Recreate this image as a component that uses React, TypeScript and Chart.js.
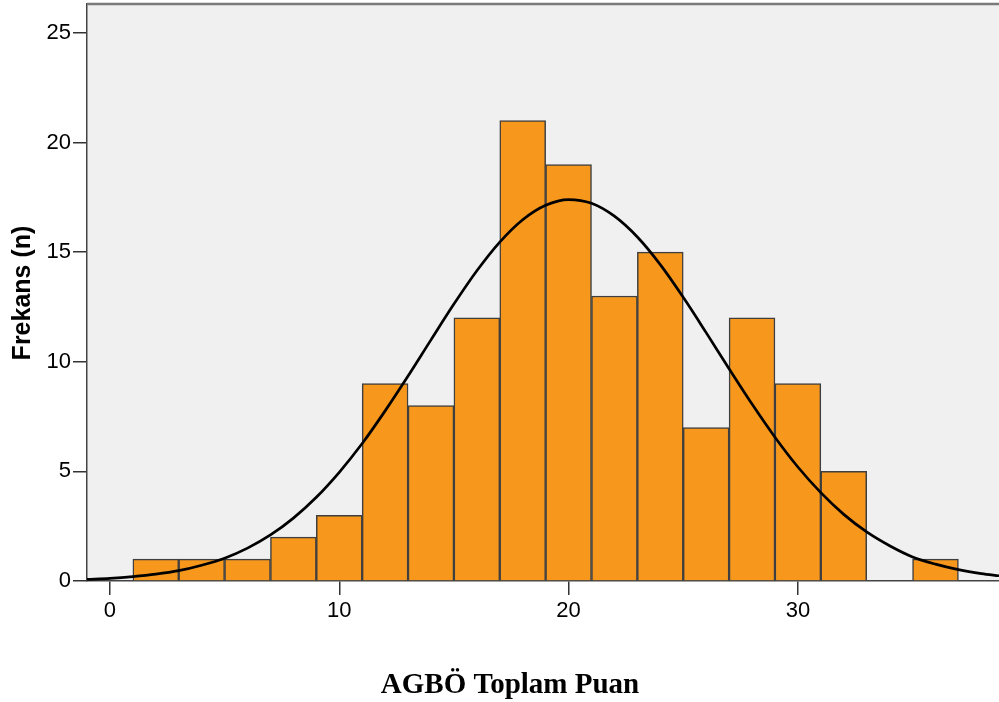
import React, { useEffect, useRef } from "react";
import { Chart, registerables } from "chart.js";

Chart.register(...registerables);

// Histogram bins (centres) and frequencies
const BIN_CENTERS = [2, 4, 6, 8, 10, 12, 14, 16, 18, 20, 22, 24, 26, 28, 30, 32, 34, 36];
const BIN_COUNTS = [1, 1, 1, 2, 3, 9, 8, 12, 21, 19, 13, 15, 7, 12, 9, 5, 0, 1];

// Fitted normal curve
const CURVE_X = [-1, 0, 1, 2, 3, 4, 5, 6, 7, 8, 9, 10, 11, 12, 13, 14, 15, 16, 17, 18, 19, 20, 21, 22, 23, 24, 25, 26, 27, 28, 29, 30, 31, 32, 33, 34, 35, 36, 37, 38, 38.77];
const CURVE_Y = [0.07, 0.12, 0.2, 0.31, 0.47, 0.72, 1.04, 1.5, 2.1, 2.87, 3.82, 4.96, 6.27, 7.76, 9.35, 11.0, 12.63, 14.15, 15.46, 16.48, 17.14, 17.4, 17.23, 16.64, 15.69, 14.43, 12.94, 11.33, 9.68, 8.07, 6.56, 5.2, 4.03, 3.04, 2.24, 1.61, 1.1, 0.77, 0.52, 0.34, 0.24];

const X_TICKS = [0, 10, 20, 30];
const Y_TICKS = [0, 5, 10, 15, 20, 25];

const X_TITLE = "AGBÖ Toplam Puan";
const Y_TITLE = "Frekans (n)";

export default function App() {
  const ref = useRef<HTMLCanvasElement>(null);

  useEffect(() => {
    if (!ref.current) return;

    const bgPlugin = {
      id: "bgPlugin",
      beforeDraw(chart: any) {
        const { ctx, chartArea } = chart;
        ctx.save();
        ctx.fillStyle = "#f0f0f0";
        ctx.fillRect(chartArea.left, chartArea.top, chartArea.right - chartArea.left, chartArea.bottom - chartArea.top);
        ctx.restore();
      },
      afterDraw(chart: any) {
        const { ctx, chartArea } = chart;
        ctx.save();
        // top border
        ctx.strokeStyle = "#7a7a7a";
        ctx.lineWidth = 2.5;
        ctx.beginPath();
        ctx.moveTo(chartArea.left, chartArea.top);
        ctx.lineTo(chartArea.right, chartArea.top);
        ctx.stroke();
        // titles
        ctx.fillStyle = "#000";
        ctx.font = "bold 29px 'Liberation Serif', 'Times New Roman', serif";
        ctx.textAlign = "center";
        ctx.textBaseline = "alphabetic";
        ctx.fillText(X_TITLE, 510, 693);
        ctx.translate(23, 293);
        ctx.rotate(-Math.PI / 2);
        ctx.font = "bold 25px 'Liberation Sans', Arial, sans-serif";
        ctx.textBaseline = "middle";
        ctx.fillText(Y_TITLE, 0, 0);
        ctx.restore();
      },
    };

    const barData = BIN_CENTERS.map((x, i) => ({ x, y: BIN_COUNTS[i] })).filter((d) => d.y > 0);
    const curveData = CURVE_X.map((x, i) => ({ x, y: CURVE_Y[i] }));

    const tickFont = { family: "'Liberation Sans', Arial, sans-serif", size: 22 };

    const chart = new Chart(ref.current, {
      type: "bar",
      data: {
        datasets: [
          {
            type: "line",
            data: curveData,
            borderColor: "#000",
            borderWidth: 2.7,
            pointRadius: 0,
            cubicInterpolationMode: "monotone",
            fill: false,
            order: 0,
          } as any,
          {
            type: "bar",
            data: barData,
            backgroundColor: "#f7981d",
            borderColor: "#3f3f3f",
            borderWidth: 1.5,
            borderSkipped: "start",
            barPercentage: 1,
            categoryPercentage: 1,
            order: 1,
          } as any,
        ],
      },
      options: {
        responsive: false,
        animation: false,
        devicePixelRatio: 1,
        layout: { padding: { top: 4, right: 0, left: 0, bottom: 0 } },
        plugins: { legend: { display: false }, tooltip: { enabled: false } },
        scales: {
          x: {
            type: "linear",
            offset: false,
            min: -1,
            max: 38.77,
            afterBuildTicks: (s: any) => {
              s.ticks = X_TICKS.map((v) => ({ value: v }));
            },
            afterFit: (s: any) => {
              s.height = 121;
              s.paddingLeft = 0;
              s.paddingRight = 0;
            },
            grid: { offset: false, drawOnChartArea: false, tickLength: 14, color: "#333", lineWidth: 1.5 },
            border: { display: true, color: "#444", width: 1.5 },
            ticks: { font: tickFont, color: "#000", padding: 3, maxRotation: 0 },
          },
          y: {
            type: "linear",
            min: 0,
            max: 26.32,
            afterBuildTicks: (s: any) => {
              s.ticks = Y_TICKS.map((v) => ({ value: v }));
            },
            afterFit: (s: any) => {
              s.width = 87;
              s.paddingTop = 0;
              s.paddingBottom = 0;
            },
            grid: { drawOnChartArea: false, tickLength: 14, color: "#333", lineWidth: 1.5 },
            border: { display: true, color: "#444", width: 1.5 },
            ticks: { font: tickFont, color: "#000", padding: 2 },
          },
        },
      },
      plugins: [bgPlugin],
    } as any);

    return () => chart.destroy();
  }, []);

  return (
    <div style={{ position: "absolute", left: 0, top: 0, width: 999, height: 702 }}>
      <canvas ref={ref} width={999} height={702} />
    </div>
  );
}
